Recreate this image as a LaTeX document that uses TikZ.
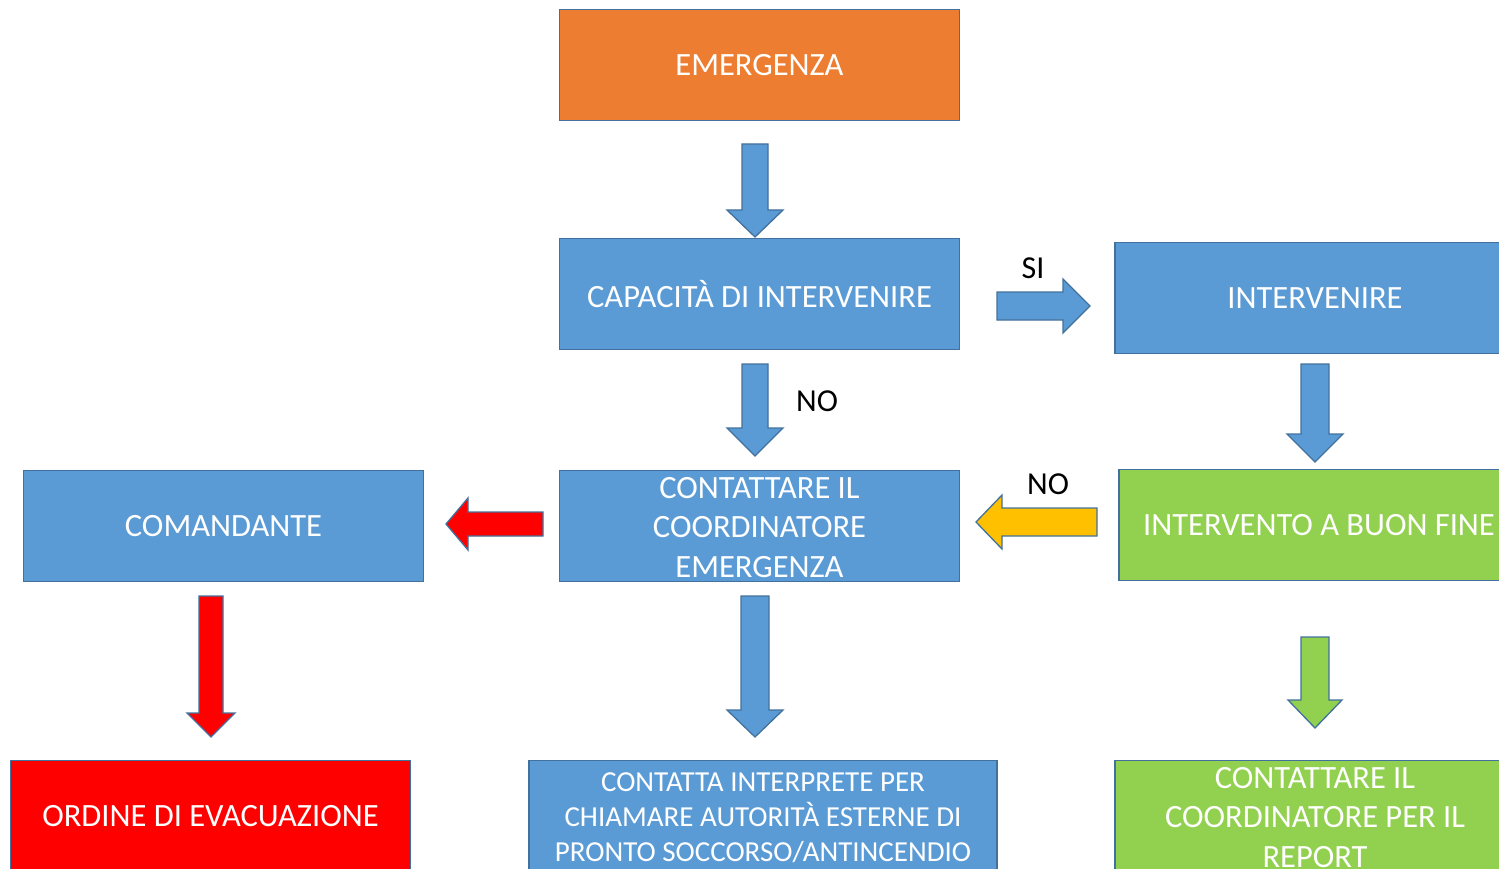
\documentclass[tikz,border=0pt]{standalone}
\usepackage{fontspec}
\setmainfont{Carlito}
\definecolor{cblue}{HTML}{5B9BD5}
\definecolor{cbord}{HTML}{41719C}
\definecolor{corange}{HTML}{ED7D31}
\definecolor{cgreen}{HTML}{92D050}
\definecolor{cred}{HTML}{FF0000}
\definecolor{cyellow}{HTML}{FFC000}
\newcommand\dnarrow[7]{%
  \filldraw[fill=#7,draw=cbord,line width=1.3pt,line join=miter]
  ({#1-#4},#2) -- ({#1+#4},#2) -- ({#1+#4},#6) -- ({#1+#5},#6) -- (#1,#3)
  -- ({#1-#5},#6) -- ({#1-#4},#6) -- cycle;}
\newcommand\hzarrow[7]{%
  \filldraw[fill=#7,draw=cbord,line width=1.3pt,line join=miter]
  (#2,{#1-#4}) -- (#6,{#1-#4}) -- (#6,{#1-#5}) -- (#3,#1) -- (#6,{#1+#5})
  -- (#6,{#1+#4}) -- (#2,{#1+#4}) -- cycle;}
\tikzset{
  box/.style={draw=cbord,line width=1.5pt,minimum width=400pt,minimum height=111pt,
    inner sep=0pt,text=white,align=center,font=\fontsize{32.5}{39.5}\selectfont},
  txt/.style={inner sep=0pt,text=white,align=center,font=\fontsize{32.5}{39.5}\selectfont},
  lbl/.style={text=black,inner sep=0pt,font=\fontsize{32}{36}\selectfont}
}
\begin{document}
\begin{tikzpicture}[x=1pt,y=-1pt]
\useasboundingbox (0,0) rectangle (1499,869);
\clip (0,0) rectangle (1499,869);
% boxes
\node[box,fill=corange] (emer) at (759.5,65) {EMERGENZA};
\node[box,fill=cblue] (cap) at (759.5,294) {CAPACITÀ DI INTERVENIRE};
\node[box,fill=cblue] (interv) at (1315,298) {INTERVENIRE};
\node[box,fill=cblue] (coord) at (759.5,526) {};
\node[txt] (coordt) at (759.5,527.5) {CONTATTARE IL\\COORDINATORE\\EMERGENZA};
\node[box,fill=cblue] (coman) at (223.5,526) {COMANDANTE};
\node[box,fill=cgreen] (buon) at (1319,525) {INTERVENTO A BUON FINE};
\node[box,fill=cred] (evac) at (210.5,816) {ORDINE DI EVACUAZIONE};
\node[box,fill=cblue,minimum width=468pt] (interp) at (763,816) {};
\node[txt,font=\fontsize{29}{35}\selectfont] (interpt) at (763,818) {CONTATTA INTERPRETE PER\\CHIAMARE AUTORITÀ ESTERNE DI\\PRONTO SOCCORSO/ANTINCENDIO};
\node[box,fill=cgreen] (report) at (1315,816) {};
\node[txt] (reportt) at (1315,817.5) {CONTATTARE IL\\COORDINATORE PER IL\\REPORT};
% arrows
\dnarrow{755}{144}{237}{13}{28}{210}{cblue}
\dnarrow{755}{364}{456}{13}{28}{428}{cblue}
\dnarrow{1315}{364}{462}{14}{28}{434}{cblue}
\dnarrow{755}{596}{737}{14}{28}{710}{cblue}
\dnarrow{211}{596}{737}{12}{24}{713}{cred}
\dnarrow{1315}{637}{728}{14}{27}{700}{cgreen}
\filldraw[fill=cblue,draw=cbord,line width=1.3pt]
  (997,292) -- (1063,292) -- (1063,279) -- (1090,306) -- (1063,333) -- (1063,320) -- (997,320) -- cycle;
\hzarrow{524}{543}{446}{12}{26}{468}{cred}
\hzarrow{522}{1097}{976}{14}{27}{1002}{cyellow}
% labels
\node[lbl] (si) at (1033,268) {SI};
\node[lbl] (no1) at (817,401) {NO};
\node[lbl] (no2) at (1048,484) {NO};
\end{tikzpicture}
\end{document}
